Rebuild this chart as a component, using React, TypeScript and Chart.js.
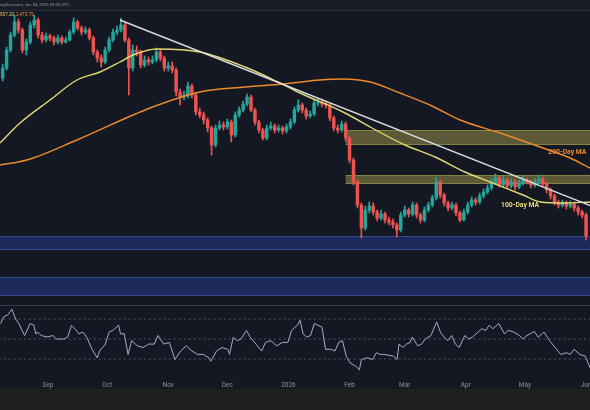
import React, { useEffect, useRef } from "react";
import { Chart, registerables } from "chart.js";
Chart.register(...registerables);

// ---------- DATA (2-day candles, day 0 = Aug 9 2025) ----------
const OPEN = [
  3920,4020,4200,4350,4480,4400,4200,4280,4450,4500,
  4350,4300,4340,4320,4280,4320,4280,4300,4380,4480,
  4420,4380,4400,4320,4180,4120,4080,4200,4300,4380,
  4400,4450,4300,4020,4200,4180,4050,4100,4080,4100,
  4180,4120,4020,4040,4000,3780,3730,3750,3840,3750,
  3580,3550,3500,3420,3250,3420,3450,3430,3480,3350,
  3550,3600,3660,3730,3600,3480,3400,3320,3420,3440,
  3400,3420,3390,3430,3480,3600,3650,3600,3540,3560,
  3670,3680,3660,3650,3520,3420,3400,3460,3320,3100,
  2880,2650,2420,2600,2640,2580,2520,2560,2500,2480,
  2450,2400,2550,2600,2560,2650,2550,2500,2600,2650,
  2720,2880,2750,2670,2620,2650,2570,2500,2580,2650,
  2700,2680,2740,2780,2820,2880,2920,2850,2900,2840,
  2880,2830,2870,2900,2880,2850,2880,2910,2860,2800,
  2740,2680,2650,2670,2640,2660,2620,2580,2550,
];
const HIGH = [
  4060,4230,4380,4550,4510,4420,4310,4480,4550,4520,
  4380,4370,4360,4340,4350,4340,4330,4400,4520,4500,
  4440,4430,4420,4340,4200,4150,4230,4330,4410,4440,
  4520,4470,4320,4250,4240,4200,4140,4130,4140,4220,
  4200,4140,4080,4080,4020,3810,3790,3880,3860,3770,
  3620,3580,3520,3440,3450,3490,3480,3510,3500,3580,
  3630,3690,3760,3750,3620,3500,3420,3450,3480,3460,
  3450,3440,3460,3510,3630,3700,3670,3620,3590,3700,
  3720,3710,3690,3670,3540,3450,3490,3480,3340,3120,
  2900,2670,2640,2680,2670,2600,2600,2580,2530,2510,
  2470,2580,2640,2620,2680,2670,2570,2630,2680,2750,
  2920,2900,2770,2690,2680,2670,2590,2610,2680,2730,
  2720,2770,2810,2850,2910,2960,2940,2940,2920,2910,
  2900,2900,2940,2920,2900,2910,2950,2930,2880,2820,
  2760,2700,2700,2690,2690,2680,2640,2600,2570,
];
const LOW = [
  3890,4000,4180,4330,4370,4170,4150,4260,4420,4320,
  4270,4280,4290,4250,4260,4260,4270,4290,4360,4400,
  4350,4360,4300,4150,4080,4030,4060,4180,4280,4350,
  4380,4280,3750,3990,4140,4020,4030,4050,4060,4080,
  4090,3990,3990,3970,3740,3650,3700,3720,3720,3550,
  3520,3460,3380,3150,3230,3400,3400,3410,3280,3330,
  3530,3580,3640,3580,3450,3370,3300,3300,3400,3370,
  3380,3360,3370,3410,3460,3580,3570,3510,3520,3540,
  3640,3630,3620,3490,3390,3370,3380,3290,3070,2850,
  2620,2320,2400,2570,2550,2490,2500,2470,2450,2420,
  2330,2380,2530,2530,2540,2520,2470,2480,2580,2630,
  2700,2720,2640,2590,2600,2540,2480,2490,2560,2630,
  2650,2660,2720,2760,2800,2860,2830,2830,2820,2820,
  2800,2810,2850,2860,2820,2830,2860,2840,2770,2710,
  2650,2620,2630,2610,2620,2590,2550,2520,2300,
];
const CLOSE = [
  4020,4200,4350,4480,4400,4200,4280,4450,4500,4350,
  4300,4340,4320,4280,4320,4280,4300,4380,4480,4420,
  4380,4400,4320,4180,4120,4080,4200,4300,4380,4400,
  4450,4300,4020,4200,4180,4050,4100,4080,4100,4180,
  4120,4020,4040,4000,3780,3730,3750,3840,3750,3580,
  3550,3500,3420,3250,3420,3450,3430,3480,3350,3550,
  3600,3660,3730,3600,3480,3400,3320,3420,3440,3400,
  3420,3390,3430,3480,3600,3650,3600,3540,3560,3670,
  3680,3660,3650,3520,3420,3400,3460,3320,3100,2880,
  2650,2420,2600,2640,2580,2520,2560,2500,2480,2450,
  2400,2550,2600,2560,2650,2550,2500,2600,2650,2720,
  2880,2750,2670,2620,2650,2570,2500,2580,2650,2700,
  2680,2740,2780,2820,2880,2920,2850,2900,2840,2880,
  2830,2870,2900,2880,2850,2880,2910,2860,2800,2740,
  2680,2650,2670,2640,2660,2620,2580,2550,2340,
];
const DAY_STEP = 2;

const MA100_DAYS = [-1.4, 8.8, 24, 37.7, 49.4, 59.5, 66.1, 78.3, 100.1, 123, 139.7, 150.9, 173.7, 187.4, 204.1, 219.4, 234.6, 247.3, 264, 272.7, 285.3, 298];
const MA100 = [3270, 3470, 3700, 3900, 3980, 4080, 4150, 4210, 4180, 4030, 3880, 3770, 3570, 3420, 3250, 3130, 2980, 2880, 2750, 2680, 2670, 2680];

const MA200_DAYS = [-1.4, 12.3, 37.7, 74.8, 100.1, 123, 142.2, 161, 172.7, 186.4, 201.6, 216.8, 232.1, 252.4, 272.7, 287.9, 298];
const MA200 = [3050, 3100, 3300, 3620, 3780, 3830, 3860, 3900, 3910, 3880, 3770, 3650, 3500, 3370, 3230, 3120, 3020];

const TREND_DAYS = [59.5, 300];
const TREND = [4500, 2630];

const RSI_DAYS = [-1,0.5,2.5,4.7,6.3,8.2,11.1,12,13.9,15.8,16.8,17.7,19.6,22.5,25.4,27.3,31.1,33,34.9,36.8,38.7,40.7,42.6,45.4,47.9,49.2,52.1,54,55.9,58.8,59.8,61.7,63.6,65.5,68.3,71.2,74.1,76.9,78.8,81.7,84.6,87.4,90.3,93.2,96,98.9,101.8,104.6,105.6,108.5,111.3,114.2,115.1,117,119,120.9,123.7,125.6,128.5,131.4,133.3,136.1,139,141.9,144.7,146.6,149.5,150.9,152.4,154.3,156.2,158.1,160,162,163.8,166.7,168.6,170.5,172.4,174.3,176.3,179.1,181,182,184.9,187.7,189.6,191.5,193.4,198.2,200.1,201.1,203,204.9,206.8,207.8,210.6,212.5,214.4,217.3,220.2,222.1,224,225.9,227.8,229.7,231.6,234.5,236.4,238.3,241.2,243.1,245,246.9,248.8,251.7,254.6,256.5,259.3,262.2,264.1,266,269.8,271.7,274.6,277.5,280.3,283.2,286.1,288,289.9,292.8,295.6,298.1];
const RSI = [65.5,72.3,74,79.8,71,65.5,53.5,57,65.5,64,55,57,53.5,52,53.5,50,50,52,63.7,60,55.2,56.9,51.8,39.7,31.2,38,44.9,56.9,58.6,63.7,55.2,55.2,34.6,48.3,43.2,41.5,44.9,44.9,53.5,44.9,46.6,29.5,38,43.2,38,34.6,34.6,31.2,27.8,38,41.5,39.7,34.6,51.8,48.3,50,58.6,51.8,44.9,38,46.6,48.3,43.2,46.6,46.6,58.6,63.7,68.8,55.2,51.8,53.5,65.5,63.7,62,39.7,39.7,38,46.6,48.3,32.9,26.1,22.7,19.2,29.5,31.2,29.5,36.3,34.6,34.6,32.9,29.5,44.9,41.5,44.9,46.6,51.8,43.2,44.9,50,53.5,67.1,56.9,51.8,48.3,53.5,44.9,41.5,53.5,50,51.8,56.9,60.3,58.6,63.7,60.3,65.5,55.2,58.6,56.9,53.5,50,53.5,57.5,51.8,56.9,48.3,41.5,34.6,36.3,34.6,39.7,34.6,32.9,20.9];
const RSI_LEVELS = [70, 50, 30];

const MONTH_TICK_DAYS = [23, 53, 84, 114, 145, 176, 204, 235, 265, 296];
const MONTH_LABELS = ["Sep", "Oct", "Nov", "Dec", "2026", "Feb", "Mar", "Apr", "May", "Jun"];

const BLUE_ZONES = [[2200, 2340], [1740, 1930]];
const YELLOW_ZONES = [[3250, 3400], [2860, 2950]];
const YELLOW_ZONE_START_DAY = 174;
const PANEL_SPLIT_PRICE = 1650;

const MA100_LABEL = { text: "100-Day MA", day: 262.5, price: 2650 };
const MA200_LABEL = { text: "200-Day MA", day: 286.5, price: 3180 };

// ---------- STYLE ----------
const BG = "#141823";
const GREEN = "#26a69a";
const RED = "#ef5350";
const YELLOW = "#e3d873";
const ORANGE = "#ec8a2c";
const FONT = 'Roboto, "Open Sans", sans-serif';

export default function App() {
  const ref = useRef<HTMLCanvasElement | null>(null);

  useEffect(() => {
    if (!ref.current) return;
    const days = OPEN.map((_, i) => i * DAY_STEP);
    const colors = OPEN.map((o, i) => (CLOSE[i] >= o ? GREEN : RED));

    const decor = {
      id: "decor",
      beforeDraw(chart: any) {
        const { ctx, width } = chart;
        ctx.save();
        ctx.fillStyle = BG;
        ctx.fillRect(0, 0, width, chart.height);
        ctx.fillStyle = "#191d28";
        ctx.fillRect(0, 0, width, 10);
        ctx.fillStyle = "#2a2e39";
        ctx.fillRect(0, 10, width, 1);
        ctx.restore();
      },
      beforeDatasetsDraw(chart: any) {
        const { ctx, chartArea } = chart;
        const y = chart.scales.price;
        const x = chart.scales.x;
        ctx.save();
        BLUE_ZONES.forEach(([lo, hi]) => {
          const t = y.getPixelForValue(hi);
          const b = y.getPixelForValue(lo);
          ctx.fillStyle = "#1b2a5a";
          ctx.fillRect(chartArea.left, t, chartArea.right - chartArea.left, b - t);
          ctx.fillStyle = "#30478a";
          ctx.fillRect(chartArea.left, t, chartArea.right - chartArea.left, 1);
          ctx.fillRect(chartArea.left, b - 1, chartArea.right - chartArea.left, 1);
        });
        const xs = x.getPixelForValue(YELLOW_ZONE_START_DAY);
        YELLOW_ZONES.forEach(([lo, hi]) => {
          const t = y.getPixelForValue(hi);
          const b = y.getPixelForValue(lo);
          ctx.fillStyle = "rgba(190,180,80,0.42)";
          ctx.fillRect(xs, t, chartArea.right - xs, b - t);
          ctx.fillStyle = "rgba(210,200,100,0.35)";
          ctx.fillRect(xs, t, chartArea.right - xs, 1);
          ctx.fillRect(xs, b - 1, chartArea.right - xs, 1);
        });
        const sp = Math.round(y.getPixelForValue(PANEL_SPLIT_PRICE));
        ctx.fillStyle = "#363a45";
        ctx.fillRect(0, sp, chart.width, 1);
        ctx.restore();
      },
      afterDatasetsDraw(chart: any) {
        const { ctx } = chart;
        const y = chart.scales.price;
        const x = chart.scales.x;
        ctx.save();
        ctx.textAlign = "center";
        ctx.textBaseline = "middle";
        ctx.font = `bold 6.8px ${FONT}`;
        ctx.fillStyle = YELLOW;
        ctx.fillText(MA100_LABEL.text, x.getPixelForValue(MA100_LABEL.day), y.getPixelForValue(MA100_LABEL.price));
        ctx.fillStyle = ORANGE;
        ctx.fillText(MA200_LABEL.text, x.getPixelForValue(MA200_LABEL.day), y.getPixelForValue(MA200_LABEL.price));
        // header
        ctx.textAlign = "left";
        ctx.font = `4.2px ${FONT}`;
        ctx.fillStyle = "#9598a1";
        const full = "TradingView.com, Jun 04, 2026 09:05 UTC";
        const off = ctx.measureText("Tradi").width;
        ctx.fillText(full, -off, 5);
        ctx.font = `4.6px ${FONT}`;
        const v1 = "4857.20";
        const o1 = ctx.measureText("4").width;
        ctx.fillStyle = "#e2c66a";
        ctx.fillText(v1, -o1, 15);
        ctx.fillStyle = ORANGE;
        ctx.fillText("2,473.75", 16, 15);
        ctx.restore();
      },
    };

    const chart = new Chart(ref.current, {
      type: "bar",
      data: {
        datasets: [
          {
            type: "line",
            label: "Trendline",
            data: TREND_DAYS.map((d, i) => ({ x: d, y: TREND[i] })),
            borderColor: "#d9dbe0",
            borderWidth: 1.4,
            pointRadius: 0,
            yAxisID: "price",
            order: 0,
          },
          {
            type: "line",
            label: "100-Day MA",
            data: MA100_DAYS.map((d, i) => ({ x: d, y: MA100[i] })),
            borderColor: YELLOW,
            borderWidth: 1.4,
            pointRadius: 0,
            cubicInterpolationMode: "monotone",
            yAxisID: "price",
            order: 0,
          },
          {
            type: "line",
            label: "200-Day MA",
            data: MA200_DAYS.map((d, i) => ({ x: d, y: MA200[i] })),
            borderColor: ORANGE,
            borderWidth: 1.4,
            pointRadius: 0,
            cubicInterpolationMode: "monotone",
            yAxisID: "price",
            order: 0,
          },
          {
            type: "bar",
            label: "bodies",
            data: days.map((d, i) => ({ x: d, y: [OPEN[i], CLOSE[i]] })) as any,
            backgroundColor: colors,
            barThickness: 2.8,
            grouped: false,
            minBarLength: 1,
            borderWidth: 0,
            yAxisID: "price",
            order: 1,
          } as any,
          {
            type: "bar",
            label: "wicks",
            data: days.map((d, i) => ({ x: d, y: [LOW[i], HIGH[i]] })) as any,
            backgroundColor: colors,
            barThickness: 1,
            grouped: false,
            borderWidth: 0,
            yAxisID: "price",
            order: 2,
          } as any,
          ...RSI_LEVELS.map((lv) => ({
            type: "line" as const,
            label: "RSI " + lv,
            data: [{ x: -2, y: lv }, { x: 300, y: lv }],
            borderColor: "rgba(130,135,150,0.55)",
            borderWidth: 1,
            borderDash: [2, 3],
            pointRadius: 0,
            yAxisID: "rsi",
            order: 3,
          })),
          {
            type: "line",
            label: "RSI",
            data: RSI_DAYS.map((d, i) => ({ x: d, y: RSI[i] })),
            borderColor: "#a3aec4",
            borderWidth: 1,
            pointRadius: 0,
            yAxisID: "rsi",
            order: 0,
          },
        ] as any,
      },
      options: {
        animation: false,
        responsive: false,
        maintainAspectRatio: false,
        events: [],
        layout: { padding: { top: 10, left: 0, right: 0, bottom: 0 } },
        plugins: { legend: { display: false }, tooltip: { enabled: false } },
        scales: {
          x: {
            type: "linear",
            min: -1.36,
            max: 298,
            offset: false,
            grid: { display: false, drawTicks: false },
            border: { display: false },
            afterBuildTicks: (s: any) => {
              s.ticks = MONTH_TICK_DAYS.map((v) => ({ value: v }));
            },
            afterFit: (s: any) => {
              s.height = 12;
              s.paddingLeft = 0;
              s.paddingRight = 0;
            },
            ticks: {
              autoSkip: false,
              maxRotation: 0,
              padding: 4,
              color: "#8a8e99",
              font: { size: 6.5, family: FONT },
              callback: (v: any) => {
                const i = MONTH_TICK_DAYS.indexOf(Number(v));
                return i >= 0 ? MONTH_LABELS[i] : "";
              },
            },
          },
          price: {
            type: "linear",
            position: "right",
            min: 930,
            max: 4600,
            display: false,
          },
          rsi: {
            type: "linear",
            position: "right",
            min: 12,
            max: 379,
            display: false,
          },
        },
      } as any,
      plugins: [decor],
    });
    return () => chart.destroy();
  }, []);

  return (
    <div style={{ position: "fixed", left: 0, top: 0, width: 590, height: 410, background: "#1f1f1f" }}>
      <canvas ref={ref} width={590} height={389} style={{ display: "block", width: 590, height: 389 }} />
    </div>
  );
}
